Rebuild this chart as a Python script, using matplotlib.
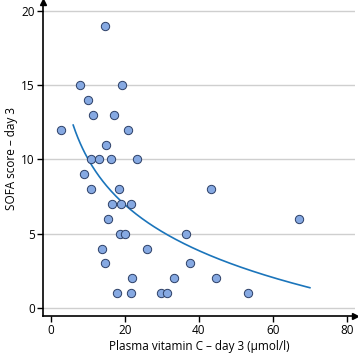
import numpy as np
import matplotlib
matplotlib.use("Agg")
import matplotlib.pyplot as plt

plt.rcParams['font.family'] = ['Open Sans', 'DejaVu Sans']

# scatter values
vit_c = [2.7, 7.9, 9.9, 11.4, 14.7, 19.1, 17.0, 20.7, 15.0,
         10.9, 13.0, 16.3, 23.2, 9.0, 10.7, 18.3, 16.5, 19.0, 21.6,
         15.3, 18.7, 20.0, 13.7, 25.9, 14.7, 22.0, 33.2, 17.8, 21.5,
         29.8, 31.3, 43.2, 67.0, 36.4, 37.6, 44.7, 53.4]
sofa = [12, 15, 14, 13, 19, 15, 13, 12, 11,
        10, 10, 10, 10, 9, 8, 8, 7, 7, 7,
        6, 5, 5, 4, 4, 3, 2, 2, 1, 1,
        1, 1, 8, 6, 5, 3, 2, 1]

# logarithmic fit line: sofa = a + b * ln(vit_c)
fit_a = 20.30
fit_b = -4.457
fit_range = (6.0, 70.0)

x_ticks = [0, 20, 40, 60, 80]
y_ticks = [0, 5, 10, 15, 20]

fig = plt.figure(figsize=(3.58, 3.56), dpi=100)
ax = fig.add_axes([43 / 358, 40 / 356, 312 / 358, 314 / 356])

ax.set_xlim(-2.16, 82.2)
ax.set_ylim(-0.54, 20.6)

for yt in y_ticks:
    ax.axhline(yt, color='#cfcfcf', lw=1.0, zorder=0)

xf = np.linspace(fit_range[0], fit_range[1], 200)
ax.plot(xf, fit_a + fit_b * np.log(xf), color='#1b75bb', lw=1.2, zorder=2)

ax.scatter(vit_c, sofa, s=36, facecolor='#86a9e2', edgecolor='#2c3f66',
           linewidths=0.7, zorder=3)

ax.spines['top'].set_visible(False)
ax.spines['right'].set_visible(False)
ax.spines['left'].set_linewidth(1.2)
ax.spines['bottom'].set_linewidth(1.2)
ax.plot(1, 0, '>k', ms=5, transform=ax.transAxes, clip_on=False)
ax.plot(0, 1, '^k', ms=5, transform=ax.transAxes, clip_on=False)

ax.set_xticks(x_ticks)
ax.set_yticks(y_ticks)
ax.tick_params(direction='out', length=4, width=1, labelsize=8.5, pad=2)

ax.set_xlabel('Plasma vitamin C – day 3 (µmol/l)', fontsize=8.5, labelpad=2)
ax.set_ylabel('SOFA score – day 3', fontsize=8.5, labelpad=2)

fig.savefig('out.png', dpi=100)
